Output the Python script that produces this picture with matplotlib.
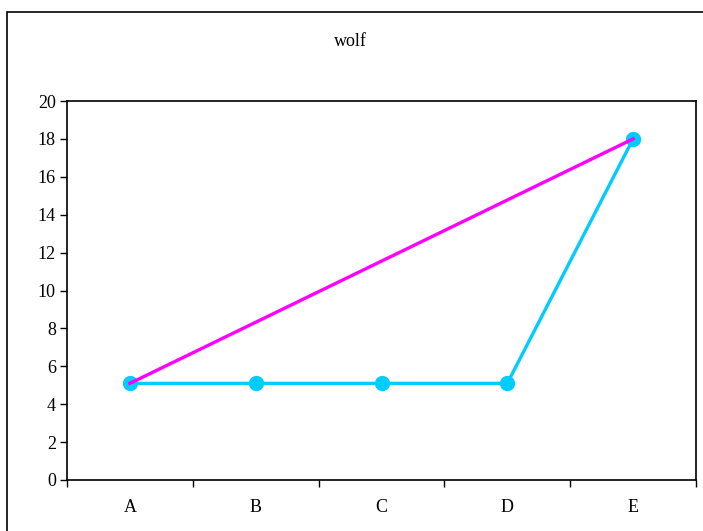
import matplotlib
matplotlib.use('Agg')
import matplotlib.pyplot as plt
from matplotlib.patches import Rectangle

categories = ['A', 'B', 'C', 'D', 'E']
series_main = [5.1, 5.1, 5.1, 5.1, 18]
trend_x = ['A', 'E']
trend_y = [5.1, 18]

plt.rcParams['font.family'] = ['Liberation Serif', 'DejaVu Serif']

fig = plt.figure(figsize=(7.03, 5.31), dpi=100)
ax = fig.add_axes([67 / 703, 51 / 531, 629 / 703, 379 / 531])

# chart border, runs off the right and bottom edges
fig.patches.append(Rectangle((7 / 703, -0.05), 1.0, (531 - 12) / 531 + 0.05,
                             transform=fig.transFigure, fill=False,
                             edgecolor='black', linewidth=1.2))

xs = list(range(len(categories)))
ax.plot(xs, series_main, color='#00CCFF', linewidth=2.4, marker='o',
        markersize=10, zorder=3)
tx = [categories.index(c) for c in trend_x]
ax.plot(tx, trend_y, color='#FF00FF', linewidth=2.4, zorder=4)

ax.set_xlim(-0.5, 4.5)
ax.set_ylim(0, 20)
ax.set_yticks(range(0, 21, 2))
ax.set_xticks(xs)
ax.set_xticklabels(categories)
ax.set_xticks([i - 0.5 for i in range(len(categories) + 1)], minor=True)
ax.tick_params(axis='x', which='major', length=0, pad=14, labelsize=13)
ax.tick_params(axis='x', which='minor', length=5, width=1, direction='out')
ax.tick_params(axis='y', length=5, width=1, direction='out', pad=3, labelsize=13)
for s in ax.spines.values():
    s.set_linewidth(1.2)

fig.text(350 / 703, 1 - 42 / 531, 'wolf', ha='center', va='center', fontsize=13)

fig.savefig('out.png', dpi=100)
